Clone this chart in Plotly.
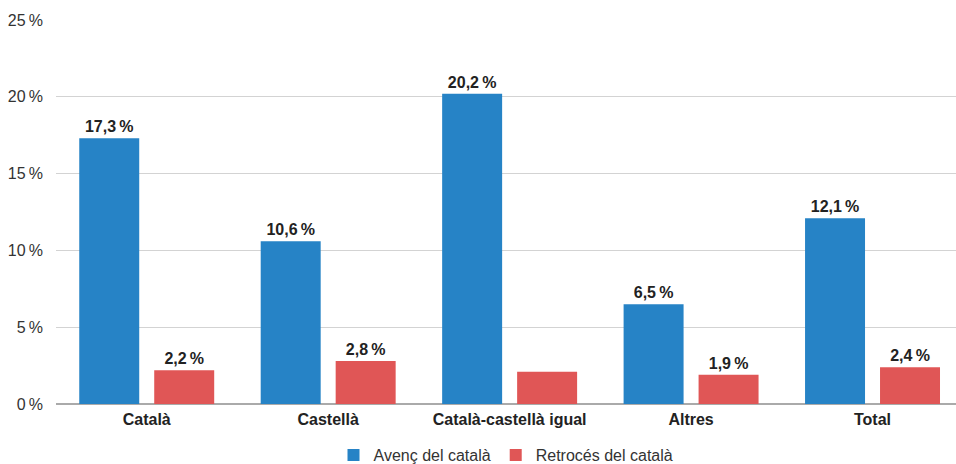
import plotly.graph_objects as go

categories = ["Català", "Castellà", "Català-castellà igual", "Altres", "Total"]
avenc = [17.3, 10.6, 20.2, 6.5, 12.1]
retroces = [2.2, 2.8, 2.1, 1.9, 2.4]
retroces_show = [True, True, False, True, True]
tick_vals = [0, 5, 10, 15, 20, 25]
tick_text = ["0\u2009%", "5\u2009%", "10\u2009%", "15\u2009%", "20\u2009%", "25\u2009%"]

def fmt(v):
    return f"{v:.1f}".replace(".", ",") + "\u2009%"

blue = "#2683C6"
red = "#E05656"
font = "Liberation Sans, Arial, sans-serif"

fig = go.Figure()
fig.add_trace(go.Bar(
    x=categories, y=avenc, name="Avenç del català",
    marker=dict(color=blue, line=dict(width=0)),
    text=[fmt(v) for v in avenc], textposition="outside",
    textfont=dict(family=font, size=16, color="#222222", weight="bold"),
    cliponaxis=False,
))
fig.add_trace(go.Bar(
    x=categories, y=retroces, name="Retrocés del català",
    marker=dict(color=red, line=dict(width=0)),
    text=[fmt(v) if s else "" for v, s in zip(retroces, retroces_show)],
    textposition="outside",
    textfont=dict(family=font, size=16, color="#222222", weight="bold"),
    cliponaxis=False,
))

fig.update_layout(
    width=956, height=464,
    margin=dict(l=56, r=0, t=20, b=60, autoexpand=False),
    paper_bgcolor="white", plot_bgcolor="white",
    barmode="group", bargap=0.1736, bargroupgap=0.2,
    font=dict(family=font, size=16, color="#333333"),
    showlegend=True,
    legend=dict(orientation="h", x=0.5, xanchor="center", y=-0.133, yanchor="middle",
                font=dict(family=font, size=16, color="#333333"),
                traceorder="normal"),
    xaxis=dict(range=[-0.5, 4.46], showgrid=False, showline=False, ticks="",
               automargin=False, ticklabelstandoff=4,
               tickfont=dict(family=font, size=16, color="#222222", weight="bold")),
    yaxis=dict(range=[0, 25], tickvals=tick_vals, ticktext=tick_text,
               showgrid=True, gridcolor="#d3d3d3", gridwidth=1, automargin=False,
               zeroline=True, zerolinecolor="#aaaaaa", zerolinewidth=1.5,
               showline=False, ticks="", ticklabelstandoff=12,
               tickfont=dict(family=font, size=16, color="#333333")),
)

fig.write_html("out.html", config={"displayModeBar": False},
               post_script="document.body.style.margin='0';document.body.style.overflow='hidden';")
